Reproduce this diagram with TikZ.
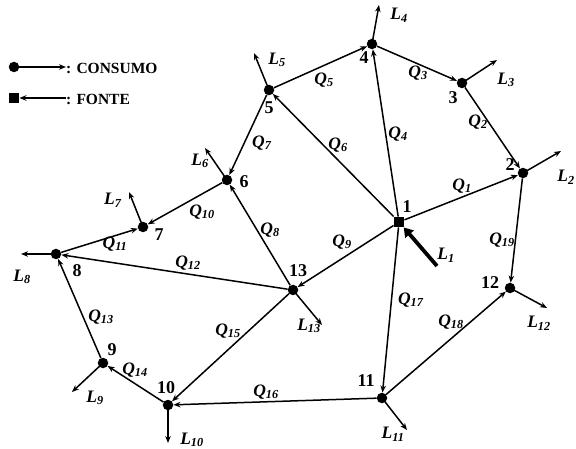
\documentclass[tikz,border=0pt]{standalone}
\usepackage{fontspec}
\setmainfont{Liberation Serif}
\usetikzlibrary{arrows.meta}
\newcommand\ql[2]{\textbf{\textit{#1}\textsubscript{\textit{#2}}}}
\begin{document}
\begin{tikzpicture}[x=1pt,y=-1pt,
  bus/.style={circle,fill=black,inner sep=0pt,minimum size=10.5pt},
  src/.style={rectangle,fill=black,inner sep=0pt,minimum size=10.5pt},
  pipe/.style={line width=1.5pt,-{Stealth[length=7pt,width=5.5pt]}},
  load/.style={line width=1.5pt,-{Stealth[length=7pt,width=5.5pt]}},
  inj/.style={line width=3.8pt,-{Triangle[length=9pt,width=11pt]}},
  num/.style={font=\fontsize{18}{20}\selectfont\bfseries,inner sep=0pt},
  lab/.style={font=\fontsize{17.5}{20}\selectfont,inner sep=0pt},
  leg/.style={font=\fontsize{15.5}{17}\selectfont\bfseries,inner sep=0pt,anchor=west}]
\useasboundingbox (0,0) rectangle (576,449);
% buses
\node[src] (n1) at (399,222) {};
\node[bus] (n2) at (523,173) {};
\node[bus] (n3) at (462,83) {};
\node[bus] (n4) at (372,44) {};
\node[bus] (n5) at (269,90) {};
\node[bus] (n6) at (227,180) {};
\node[bus] (n7) at (143,227) {};
\node[bus] (n8) at (56,254) {};
\node[bus] (n9) at (103,363) {};
\node[bus] (n10) at (168,405) {};
\node[bus] (n11) at (382,398) {};
\node[bus] (n12) at (510,288) {};
\node[bus] (n13) at (293,290) {};
% bus numbers
\node[num] (t1) at (407,207) {1};
\node[num] (t2) at (510,165) {2};
\node[num] (t3) at (453,98) {3};
\node[num] (t4) at (364,58) {4};
\node[num] (t5) at (269,108) {5};
\node[num] (t6) at (244,182) {6};
\node[num] (t7) at (159,235) {7};
\node[num] (t8) at (77,271) {8};
\node[num] (t9) at (112,350) {9};
\node[num] (t10) at (166,388) {10};
\node[num] (t11) at (366,381) {11};
\node[num] (t12) at (490,283) {12};
\node[num] (t13) at (298,271) {13};
% lines
\draw[pipe] (n1) -- (n2);
\draw[pipe] (n3) -- (n2);
\draw[pipe] (n4) -- (n3);
\draw[pipe] (n1) -- (n4);
\draw[pipe] (n5) -- (n4);
\draw[pipe] (n1) -- (n5);
\draw[pipe] (n5) -- (n6);
\draw[pipe] (n13) -- (n6);
\draw[pipe] (n1) -- (n13);
\draw[pipe] (n6) -- (n7);
\draw[pipe] (n8) -- (n7);
\draw[pipe] (n13) -- (n8);
\draw[pipe] (n9) -- (n8);
\draw[pipe] (n10) -- (n9);
\draw[pipe] (n13) -- (n10);
\draw[pipe] (n11) -- (n10);
\draw[pipe] (n1) -- (n11);
\draw[pipe] (n11) -- (n12);
\draw[pipe] (n2) -- (n12);
% flow labels
\node[lab] (q1) at (462,186) {\ql{Q}{1}};
\node[lab] (q2) at (478,122) {\ql{Q}{2}};
\node[lab] (q3) at (418,73) {\ql{Q}{3}};
\node[lab] (q4) at (398,134) {\ql{Q}{4}};
\node[lab] (q5) at (324,80) {\ql{Q}{5}};
\node[lab] (q6) at (338,145) {\ql{Q}{6}};
\node[lab] (q7) at (262,143) {\ql{Q}{7}};
\node[lab] (q8) at (270,230) {\ql{Q}{8}};
\node[lab] (q9) at (342,242) {\ql{Q}{9}};
\node[lab] (q10) at (202,212) {\ql{Q}{10}};
\node[lab] (q11) at (115,244) {\ql{Q}{11}};
\node[lab] (q12) at (188,263) {\ql{Q}{12}};
\node[lab] (q13) at (101,317) {\ql{Q}{13}};
\node[lab] (q14) at (135,370) {\ql{Q}{14}};
\node[lab] (q15) at (228,331) {\ql{Q}{15}};
\node[lab] (q16) at (266,392) {\ql{Q}{16}};
\node[lab] (q17) at (411,300) {\ql{Q}{17}};
\node[lab] (q18) at (451,322) {\ql{Q}{18}};
\node[lab] (q19) at (502,240) {\ql{Q}{19}};
% loads
\coordinate (e2) at (561,151);
\coordinate (e3) at (497,60);
\coordinate (e4) at (379,5);
\coordinate (e5) at (254,53);
\coordinate (e6) at (205,148);
\coordinate (e7) at (129,192);
\coordinate (e8) at (21,254);
\coordinate (e9) at (72,392);
\coordinate (e10) at (168,443);
\coordinate (e11) at (407,430);
\coordinate (e12) at (547,308);
\coordinate (e13) at (322,325);
\draw[load] (n2.center) -- (e2);
\draw[load] (n3.center) -- (e3);
\draw[load] (n4.center) -- (e4);
\draw[load] (n5.center) -- (e5);
\draw[load] (n6.center) -- (e6);
\draw[load] (n7.center) -- (e7);
\draw[load] (n8.center) -- (e8);
\draw[load] (n9.center) -- (e9);
\draw[load] (n10.center) -- (e10);
\draw[load] (n11.center) -- (e11);
\draw[load] (n12.center) -- (e12);
\draw[load] (n13.center) -- (e13);
\coordinate (s1) at (437,266);
\draw[inj] (s1) -- (n1);
% load labels
\node[lab] (l1) at (446,255) {\ql{L}{1}};
\node[lab] (l2) at (566,177) {\ql{L}{2}};
\node[lab] (l3) at (506,80) {\ql{L}{3}};
\node[lab] (l4) at (399,15) {\ql{L}{4}};
\node[lab] (l5) at (277,60) {\ql{L}{5}};
\node[lab] (l6) at (200,161) {\ql{L}{6}};
\node[lab] (l7) at (113,200) {\ql{L}{7}};
\node[lab] (l8) at (22,277) {\ql{L}{8}};
\node[lab] (l9) at (95,398) {\ql{L}{9}};
\node[lab] (l10) at (192,440) {\ql{L}{10}};
\node[lab] (l11) at (393,434) {\ql{L}{11}};
\node[lab] (l12) at (539,323) {\ql{L}{12}};
\node[lab] (l13) at (309,326) {\ql{L}{13}};
% legend
\node[bus] (lc) at (14,67) {};
\coordinate (lce) at (66,67);
\draw[pipe,line width=1.2pt] (lc) -- (lce);
\node[leg] (lct) at (66,68) {: CONSUMO};
\node[src] (lf) at (14,98) {};
\coordinate (lfe) at (66,98);
\draw[pipe,line width=1.2pt] (lfe) -- (lf);
\node[leg] (lft) at (66,99) {: FONTE};
\end{tikzpicture}
\end{document}
